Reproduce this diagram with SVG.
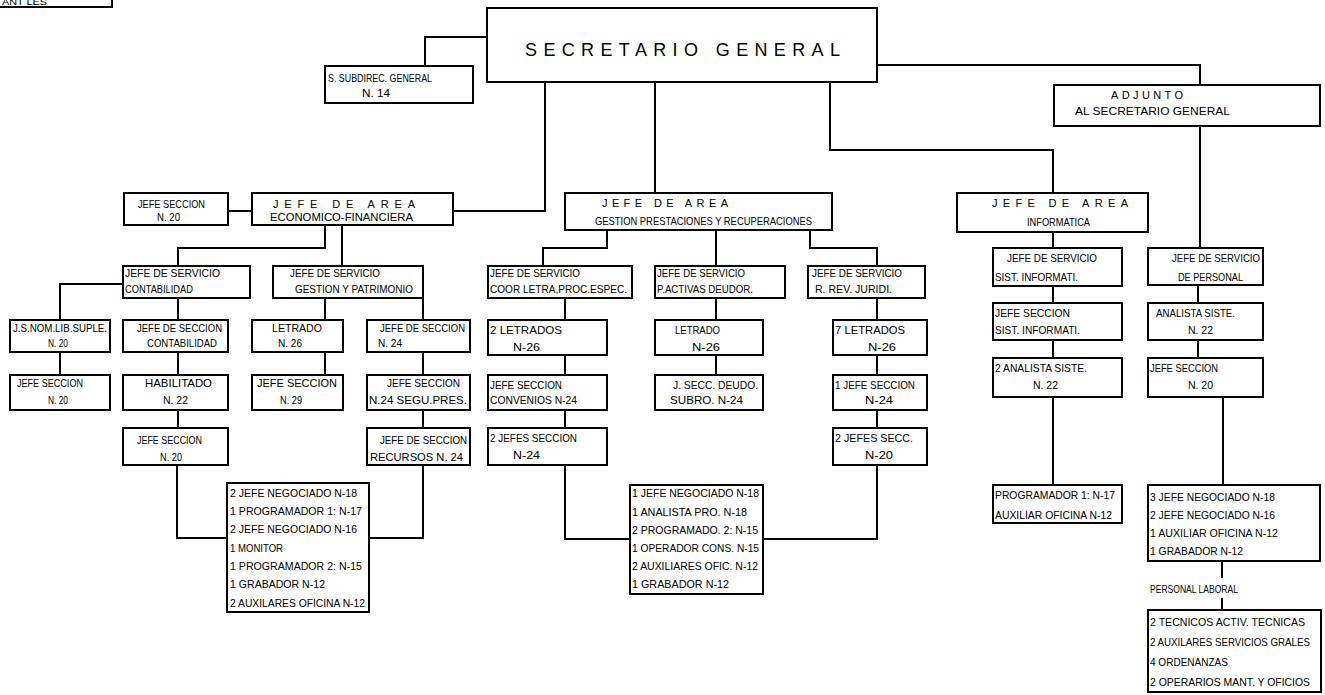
<svg xmlns="http://www.w3.org/2000/svg" width="1325" height="695" viewBox="0 0 1325 695">
<style>
.b{fill:#fff;stroke:#000;stroke-width:2}
.c{fill:none;stroke:#000;stroke-width:2}
text{font-family:"Liberation Sans Narrow","Liberation Sans",Arial,sans-serif;font-size:11px;fill:#000}
.sg{font-size:18px}
.sm{font-size:10px}
.tl{font-size:9px}
.lb{font-size:10.5px}
</style>
<rect x="0" y="0" width="1325" height="695" fill="#fff"/>
<g id="connectors" class="c">
<path d="M487 37H425V66"/>
<path d="M877 65H1200V85"/>
<path d="M1200 126V248"/>
<path d="M545 82V211H453"/>
<path d="M655 82V193"/>
<path d="M830 82V150H1053V193"/>
<path d="M228 211H252"/>
<path d="M325 225V248H178V266"/>
<path d="M342 225V266"/>
<path d="M123 284H60V320"/>
<path d="M60 352V375"/>
<path d="M178 298V320M178 352V375M178 410V428"/>
<path d="M177 465V538H227"/>
<path d="M325 298V320M325 352V375"/>
<path d="M423 298V320M423 352V375M423 410V428M423 465V538H369"/>
<path d="M607 230V248H543V266"/>
<path d="M716 230V266"/>
<path d="M810 230V248H877V266"/>
<path d="M565 298V320M565 355V375M565 410V428M565 465V539H630"/>
<path d="M716 298V320M716 355V375"/>
<path d="M877 298V320M877 355V375M877 410V428M877 465V539H763"/>
<path d="M1053 232V248M1053 286V303M1053 340V358M1053 397V485"/>
<path d="M1198 285V303M1198 340V358"/>
<path d="M1223 397V485"/>
<path d="M1222 561V578M1222 598V610"/>
</g>
<g id="top-left-box"><rect class="b" x="-3" y="-30" width="115" height="37"/><text class="tl" x="2" y="5" textLength="45" lengthAdjust="spacingAndGlyphs">ANT LES</text></g>
<g id="secretario-general"><rect class="b" x="487" y="8" width="390" height="74"/><text class="sg" x="525" y="56" textLength="315" lengthAdjust="spacing">SECRETARIO GENERAL</text></g>
<g id="subdirec"><rect class="b" x="325" y="66" width="148" height="37"/><text x="328" y="82" textLength="104" lengthAdjust="spacingAndGlyphs">S. SUBDIREC. GENERAL</text><text x="362" y="97" textLength="28" lengthAdjust="spacingAndGlyphs">N. 14</text></g>
<g id="adjunto"><rect class="b" x="1054" y="85" width="266" height="41"/><text x="1111" y="99" textLength="72" lengthAdjust="spacing">ADJUNTO</text><text class="sm" x="1075" y="115" textLength="155" lengthAdjust="spacingAndGlyphs">AL SECRETARIO GENERAL</text></g>
<g id="jefe-seccion-20"><rect class="b" x="124" y="193" width="104" height="32"/><text x="138" y="208" textLength="67" lengthAdjust="spacingAndGlyphs">JEFE SECCION</text><text x="157" y="221" textLength="23" lengthAdjust="spacingAndGlyphs">N. 20</text></g>
<g id="area-eco"><rect class="b" x="252" y="193" width="201" height="32"/><text x="273" y="208" textLength="142" lengthAdjust="spacing">JEFE DE AREA</text><text x="270" y="221" textLength="143" lengthAdjust="spacingAndGlyphs">ECONOMICO-FINANCIERA</text></g>
<g id="area-gestion"><rect class="b" x="565" y="193" width="267" height="37"/><text x="602" y="207" textLength="126" lengthAdjust="spacing">JEFE DE AREA</text><text x="595" y="225" textLength="217" lengthAdjust="spacingAndGlyphs">GESTION PRESTACIONES Y RECUPERACIONES</text></g>
<g id="area-informatica"><rect class="b" x="957" y="193" width="191" height="39"/><text x="992" y="207" textLength="136" lengthAdjust="spacing">JEFE DE AREA</text><text x="1027" y="226" textLength="63" lengthAdjust="spacingAndGlyphs">INFORMATICA</text></g>
<g id="serv-contab"><rect class="b" x="123" y="266" width="127" height="32"/><text x="125" y="277" textLength="95" lengthAdjust="spacingAndGlyphs">JEFE DE  SERVICIO</text><text x="125" y="293" textLength="68" lengthAdjust="spacingAndGlyphs">CONTABILIDAD</text></g>
<g id="serv-gestion"><rect class="b" x="273" y="266" width="150" height="32"/><text x="290" y="277" textLength="90" lengthAdjust="spacingAndGlyphs">JEFE DE  SERVICIO</text><text x="295" y="293" textLength="118" lengthAdjust="spacingAndGlyphs">GESTION Y PATRIMONIO</text></g>
<g id="serv-coor"><rect class="b" x="488" y="266" width="144" height="32"/><text x="490" y="277" textLength="90" lengthAdjust="spacingAndGlyphs">JEFE DE SERVICIO</text><text x="490" y="293" textLength="137" lengthAdjust="spacingAndGlyphs">COOR LETRA,PROC.ESPEC.</text></g>
<g id="serv-pactivas"><rect class="b" x="655" y="266" width="130" height="32"/><text x="657" y="277" textLength="88" lengthAdjust="spacingAndGlyphs">JEFE DE SERVICIO</text><text x="657" y="293" textLength="96" lengthAdjust="spacingAndGlyphs">P.ACTIVAS DEUDOR.</text></g>
<g id="serv-rrev"><rect class="b" x="808" y="266" width="117" height="32"/><text x="812" y="277" textLength="90" lengthAdjust="spacingAndGlyphs">JEFE DE SERVICIO</text><text x="815" y="293" textLength="77" lengthAdjust="spacingAndGlyphs">R. REV. JURIDI.</text></g>
<g id="serv-sist"><rect class="b" x="993" y="248" width="129" height="38"/><text x="1007" y="262" textLength="90" lengthAdjust="spacingAndGlyphs">JEFE DE SERVICIO</text><text x="995" y="281" textLength="83" lengthAdjust="spacingAndGlyphs">SIST. INFORMATI.</text></g>
<g id="serv-personal"><rect class="b" x="1148" y="248" width="115" height="37"/><text x="1172" y="262" textLength="88" lengthAdjust="spacingAndGlyphs">JEFE DE SERVICIO</text><text x="1178" y="281" textLength="65" lengthAdjust="spacingAndGlyphs">DE PERSONAL</text></g>
<g id="jsnom"><rect class="b" x="10" y="320" width="100" height="32"/><text x="13" y="332" textLength="94" lengthAdjust="spacingAndGlyphs">J.S.NOM.LIB.SUPLE.</text><text x="48" y="347" textLength="20" lengthAdjust="spacingAndGlyphs">N. 20</text></g>
<g id="jsecc-contab"><rect class="b" x="123" y="320" width="105" height="32"/><text x="137" y="332" textLength="85" lengthAdjust="spacingAndGlyphs">JEFE DE SECCION</text><text x="147" y="347" textLength="70" lengthAdjust="spacingAndGlyphs">CONTABILIDAD</text></g>
<g id="letrado-26"><rect class="b" x="252" y="320" width="91" height="32"/><text x="272" y="332" textLength="50" lengthAdjust="spacingAndGlyphs">LETRADO</text><text x="278" y="347" textLength="24" lengthAdjust="spacingAndGlyphs">N. 26</text></g>
<g id="jsecc-24"><rect class="b" x="367" y="320" width="103" height="32"/><text x="380" y="332" textLength="85" lengthAdjust="spacingAndGlyphs">JEFE DE SECCION</text><text x="378" y="347" textLength="24" lengthAdjust="spacingAndGlyphs">N. 24</text></g>
<g id="letrados-2"><rect class="b" x="488" y="320" width="119" height="35"/><text x="490" y="334" textLength="72" lengthAdjust="spacingAndGlyphs">2  LETRADOS</text><text x="513" y="351" textLength="27" lengthAdjust="spacingAndGlyphs">N-26</text></g>
<g id="letrado-pa"><rect class="b" x="655" y="320" width="108" height="35"/><text x="675" y="334" textLength="45" lengthAdjust="spacingAndGlyphs">LETRADO</text><text x="692" y="351" textLength="28" lengthAdjust="spacingAndGlyphs">N-26</text></g>
<g id="letrados-7"><rect class="b" x="833" y="320" width="94" height="35"/><text x="835" y="334" textLength="70" lengthAdjust="spacingAndGlyphs">7  LETRADOS</text><text x="868" y="351" textLength="28" lengthAdjust="spacingAndGlyphs">N-26</text></g>
<g id="jsecc-sist"><rect class="b" x="993" y="303" width="129" height="37"/><text x="995" y="317" textLength="75" lengthAdjust="spacingAndGlyphs">JEFE  SECCION</text><text x="995" y="334" textLength="85" lengthAdjust="spacingAndGlyphs">SIST. INFORMATI.</text></g>
<g id="analista-personal"><rect class="b" x="1148" y="303" width="115" height="37"/><text x="1156" y="317" textLength="79" lengthAdjust="spacingAndGlyphs">ANALISTA SISTE.</text><text x="1188" y="334" textLength="25" lengthAdjust="spacingAndGlyphs">N. 22</text></g>
<g id="jsecc-20-left"><rect class="b" x="10" y="375" width="100" height="35"/><text x="17" y="387" textLength="66" lengthAdjust="spacingAndGlyphs">JEFE SECCION</text><text x="48" y="404" textLength="20" lengthAdjust="spacingAndGlyphs">N. 20</text></g>
<g id="habilitado"><rect class="b" x="123" y="375" width="105" height="35"/><text x="145" y="387" textLength="67" lengthAdjust="spacingAndGlyphs">HABILITADO</text><text x="163" y="404" textLength="25" lengthAdjust="spacingAndGlyphs">N. 22</text></g>
<g id="jsecc-29"><rect class="b" x="252" y="375" width="91" height="35"/><text x="257" y="387" textLength="80" lengthAdjust="spacingAndGlyphs">JEFE  SECCION</text><text x="280" y="404" textLength="22" lengthAdjust="spacingAndGlyphs">N. 29</text></g>
<g id="jsecc-segu"><rect class="b" x="367" y="375" width="103" height="35"/><text x="387" y="387" textLength="73" lengthAdjust="spacingAndGlyphs">JEFE  SECCION</text><text x="369" y="404" textLength="98" lengthAdjust="spacingAndGlyphs">N.24  SEGU.PRES.</text></g>
<g id="jsecc-convenios"><rect class="b" x="488" y="375" width="119" height="35"/><text x="490" y="389" textLength="72" lengthAdjust="spacingAndGlyphs">JEFE SECCION</text><text x="490" y="404" textLength="87" lengthAdjust="spacingAndGlyphs">CONVENIOS N-24</text></g>
<g id="jsecc-deudo"><rect class="b" x="655" y="375" width="108" height="35"/><text x="673" y="389" textLength="85" lengthAdjust="spacingAndGlyphs">J. SECC. DEUDO.</text><text x="670" y="404" textLength="73" lengthAdjust="spacingAndGlyphs">SUBRO. N-24</text></g>
<g id="jsecc-1"><rect class="b" x="833" y="375" width="94" height="35"/><text x="835" y="389" textLength="80" lengthAdjust="spacingAndGlyphs">1 JEFE SECCION</text><text x="865" y="404" textLength="28" lengthAdjust="spacingAndGlyphs">N-24</text></g>
<g id="analista-2"><rect class="b" x="993" y="358" width="129" height="39"/><text x="995" y="372" textLength="92" lengthAdjust="spacingAndGlyphs">2 ANALISTA SISTE.</text><text x="1033" y="389" textLength="25" lengthAdjust="spacingAndGlyphs">N. 22</text></g>
<g id="jsecc-personal"><rect class="b" x="1148" y="358" width="115" height="39"/><text x="1150" y="372" textLength="68" lengthAdjust="spacingAndGlyphs">JEFE SECCION</text><text x="1188" y="389" textLength="25" lengthAdjust="spacingAndGlyphs">N. 20</text></g>
<g id="jsecc-20-contab"><rect class="b" x="123" y="428" width="105" height="37"/><text x="137" y="444" textLength="65" lengthAdjust="spacingAndGlyphs">JEFE SECCION</text><text x="160" y="461" textLength="22" lengthAdjust="spacingAndGlyphs">N. 20</text></g>
<g id="jsecc-recursos"><rect class="b" x="367" y="428" width="103" height="37"/><text x="380" y="444" textLength="87" lengthAdjust="spacingAndGlyphs">JEFE DE SECCION</text><text x="370" y="461" textLength="93" lengthAdjust="spacingAndGlyphs">RECURSOS  N. 24</text></g>
<g id="jefes-2"><rect class="b" x="488" y="428" width="119" height="37"/><text x="490" y="442" textLength="87" lengthAdjust="spacingAndGlyphs">2 JEFES SECCION</text><text x="513" y="459" textLength="27" lengthAdjust="spacingAndGlyphs">N-24</text></g>
<g id="jefes-secc-2"><rect class="b" x="833" y="428" width="94" height="37"/><text x="835" y="442" textLength="78" lengthAdjust="spacingAndGlyphs">2 JEFES  SECC.</text><text x="865" y="459" textLength="28" lengthAdjust="spacingAndGlyphs">N-20</text></g>
<g id="list-eco"><rect class="b" x="227" y="483" width="142" height="129"/>
<text x="230" y="497" textLength="127" lengthAdjust="spacingAndGlyphs">2 JEFE NEGOCIADO N-18</text>
<text x="230" y="515" textLength="132" lengthAdjust="spacingAndGlyphs">1 PROGRAMADOR 1: N-17</text>
<text x="230" y="533" textLength="127" lengthAdjust="spacingAndGlyphs">2 JEFE NEGOCIADO N-16</text>
<text x="230" y="552" textLength="53" lengthAdjust="spacingAndGlyphs">1 MONITOR</text>
<text x="230" y="570" textLength="132" lengthAdjust="spacingAndGlyphs">1 PROGRAMADOR 2: N-15</text>
<text x="230" y="588" textLength="95" lengthAdjust="spacingAndGlyphs">1 GRABADOR N-12</text>
<text x="230" y="607" textLength="135" lengthAdjust="spacingAndGlyphs">2 AUXILARES OFICINA N-12</text></g>
<g id="list-gestion"><rect class="b" x="630" y="485" width="133" height="109"/>
<text x="632" y="497" textLength="127" lengthAdjust="spacingAndGlyphs">1 JEFE NEGOCIADO N-18</text>
<text x="632" y="516" textLength="115" lengthAdjust="spacingAndGlyphs">1 ANALISTA PRO. N-18</text>
<text x="632" y="534" textLength="126" lengthAdjust="spacingAndGlyphs">2 PROGRAMADO. 2: N-15</text>
<text x="632" y="552" textLength="127" lengthAdjust="spacingAndGlyphs">1 OPERADOR CONS. N-15</text>
<text x="632" y="570" textLength="126" lengthAdjust="spacingAndGlyphs">2 AUXILIARES OFIC. N-12</text>
<text x="632" y="588" textLength="97" lengthAdjust="spacingAndGlyphs">1 GRABADOR N-12</text></g>
<g id="programador"><rect class="b" x="993" y="485" width="129" height="38"/>
<text x="995" y="499" textLength="120" lengthAdjust="spacingAndGlyphs">PROGRAMADOR 1: N-17</text>
<text x="995" y="519" textLength="117" lengthAdjust="spacingAndGlyphs">AUXILIAR OFICINA N-12</text></g>
<g id="list-personal"><rect class="b" x="1148" y="485" width="172" height="76"/>
<text x="1150" y="501" textLength="125" lengthAdjust="spacingAndGlyphs">3 JEFE NEGOCIADO N-18</text>
<text x="1150" y="519" textLength="125" lengthAdjust="spacingAndGlyphs">2 JEFE NEGOCIADO N-16</text>
<text x="1150" y="537" textLength="128" lengthAdjust="spacingAndGlyphs">1 AUXILIAR OFICINA N-12</text>
<text x="1150" y="555" textLength="93" lengthAdjust="spacingAndGlyphs">1 GRABADOR N-12</text></g>
<g id="personal-laboral-label"><text x="1150" y="593" textLength="88" lengthAdjust="spacingAndGlyphs">PERSONAL LABORAL</text></g>
<g id="list-laboral"><rect class="b" x="1148" y="610" width="173" height="82"/>
<text class="lb" x="1150" y="626" textLength="155" lengthAdjust="spacingAndGlyphs">2 TECNICOS ACTIV. TECNICAS</text>
<text class="lb" x="1150" y="646" textLength="160" lengthAdjust="spacingAndGlyphs">2 AUXILARES SERVICIOS GRALES</text>
<text class="lb" x="1150" y="666" textLength="78" lengthAdjust="spacingAndGlyphs">4 ORDENANZAS</text>
<text class="lb" x="1150" y="686" textLength="160" lengthAdjust="spacingAndGlyphs">2 OPERARIOS  MANT. Y OFICIOS</text></g>
</svg>
